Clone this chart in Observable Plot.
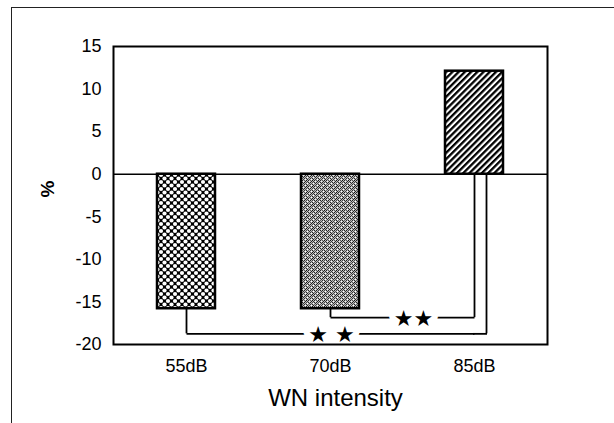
<!DOCTYPE html>
<html><head><meta charset="utf-8">
<script src="https://cdn.jsdelivr.net/npm/d3@7"></script>
<script src="https://cdn.jsdelivr.net/npm/@observablehq/plot@0.6"></script>
<style>
html,body{margin:0;padding:0;background:#fff;}
#wrap{position:relative;width:614px;height:423px;overflow:hidden;}
#wrap::before{content:"";position:absolute;left:11px;top:7px;width:700px;height:600px;border-left:1.5px solid #222;border-top:1.5px solid #222;pointer-events:none;z-index:1;}
</style></head><body><div id="wrap"></div>
<script>
// ---- data ----
const categories = ["55dB", "70dB", "85dB"];
const values = [-15.8, -15.8, 12.1];
const yTicks = [15, 10, 5, 0, -5, -10, -15, -20];
const compFrom = ["70dB", "55dB"];
const compTo = ["85dB", "85dB"];
const compLevel = [-16.85, -18.75];
const compLabel = ["★★", "★ ★"];
const xLabel = "WN intensity";
const yLabel = "%";

// ---- build ----
const bars = categories.map((c, i) => ({cat: c, value: values[i]}));
const valueOf = Object.fromEntries(bars.map(d => [d.cat, d.value]));
const bottomOf = c => Math.min(0, valueOf[c]);
const comps = compFrom.map((f, i) => ({from: f, to: compTo[i], level: compLevel[i], label: compLabel[i]}));

// style-only offsets (px)
const rightDx = [0, 12];
const starDx = [83, 145];
const bw = 58;

const bracketMarks = [];
comps.forEach((c, i) => {
  bracketMarks.push(
    Plot.ruleX([c], {x: "from", y1: d => bottomOf(d.from), y2: "level", stroke: "black", strokeWidth: 1.8}),
    Plot.link([c], {x1: "from", x2: "to", y1: "level", y2: "level", stroke: "black", strokeWidth: 1.8}),
    Plot.ruleX([c], {x: "to", y1: "level", y2: d => bottomOf(d.to), dx: rightDx[i], stroke: "black", strokeWidth: 1.8})
  );
  if (rightDx[i] > 0) {
    bracketMarks.push(Plot.tickY([c], {x: "to", y: "level", insetLeft: bw / 2 - 1, insetRight: bw / 2 - rightDx[i] - 1, stroke: "black", strokeWidth: 1.8}));
  }
});
const starMarks = comps.map((c, i) =>
  Plot.text([c], {x: "from", y: "level", text: "label", dx: starDx[i], dy: 1, fontSize: 22, fontFamily: "DejaVu Sans", fill: "black", stroke: "white", strokeWidth: 12})
);

const svg = Plot.plot({
  width: 614,
  height: 423,
  marginLeft: 113,
  marginRight: 67,
  marginTop: 46,
  marginBottom: 79,
  style: {fontFamily: "'Liberation Sans', Arial, sans-serif", fontSize: "18px", background: "transparent", color: "black", overflow: "visible"},
  x: {domain: categories, paddingInner: 0.6, paddingOuter: 0.3, tickSize: 0, tickPadding: 15, label: null},
  y: {domain: [-20, 15], ticks: yTicks, tickSize: 0, tickPadding: 12, label: null, tickFormat: d => String(d)},
  color: {domain: categories, range: ["url(#pat55)", "url(#pat70)", "url(#pat85)"]},
  marks: [
    Plot.barY(bars, {x: "cat", y: "value", fill: "cat", stroke: "black", strokeWidth: 2.5}),
    Plot.ruleY([0], {stroke: "black", strokeWidth: 1.5}),
    ...bracketMarks,
    ...starMarks,
    Plot.frame({stroke: "black", strokeWidth: 2}),
    Plot.text([xLabel], {text: d => d, frameAnchor: "bottom", dy: 61, dx: 5, fontSize: 24}),
    Plot.text([yLabel], {text: d => d, frameAnchor: "left", dx: -66, dy: 2, rotate: -90, fontSize: 19, fontWeight: "bold"})
  ]
});

d3.select(svg).insert("defs", ":first-child").html(`
<pattern id="pat55" patternUnits="userSpaceOnUse" width="7" height="7">
  <rect width="7" height="7" fill="#000"/>
  <circle cx="0" cy="0" r="2.1" fill="#fff"/>
  <circle cx="7" cy="0" r="2.1" fill="#fff"/>
  <circle cx="0" cy="7" r="2.1" fill="#fff"/>
  <circle cx="7" cy="7" r="2.1" fill="#fff"/>
  <circle cx="3.5" cy="3.5" r="2.1" fill="#fff"/>
</pattern>
<pattern id="pat70" patternUnits="userSpaceOnUse" width="6" height="6">
  <rect width="6" height="6" fill="#bdbdbd"/>
  <rect x="0" y="0" width="1" height="1" fill="#111"/>
  <rect x="2" y="0" width="1" height="1" fill="#222"/>
  <rect x="4" y="0" width="1" height="1" fill="#555"/>
  <rect x="1" y="1" width="1" height="1" fill="#333"/>
  <rect x="3" y="1" width="1" height="1" fill="#eee"/>
  <rect x="5" y="1" width="1" height="1" fill="#222"/>
  <rect x="0" y="2" width="1" height="1" fill="#444"/>
  <rect x="2" y="2" width="1" height="1" fill="#222"/>
  <rect x="4" y="2" width="1" height="1" fill="#222"/>
  <rect x="1" y="3" width="1" height="1" fill="#fff"/>
  <rect x="3" y="3" width="1" height="1" fill="#333"/>
  <rect x="5" y="3" width="1" height="1" fill="#555"/>
  <rect x="0" y="4" width="1" height="1" fill="#222"/>
  <rect x="2" y="4" width="1" height="1" fill="#666"/>
  <rect x="4" y="4" width="1" height="1" fill="#333"/>
  <rect x="1" y="5" width="1" height="1" fill="#222"/>
  <rect x="3" y="5" width="1" height="1" fill="#444"/>
  <rect x="5" y="5" width="1" height="1" fill="#fff"/>
</pattern>
<pattern id="pat85" patternUnits="userSpaceOnUse" width="4.4" height="4.4" patternTransform="rotate(45)">
  <rect width="4.4" height="4.4" fill="#fff"/>
  <rect x="0" y="0" width="2.3" height="4.4" fill="#000"/>
</pattern>`);

document.getElementById("wrap").appendChild(svg);
</script>
</body></html>
